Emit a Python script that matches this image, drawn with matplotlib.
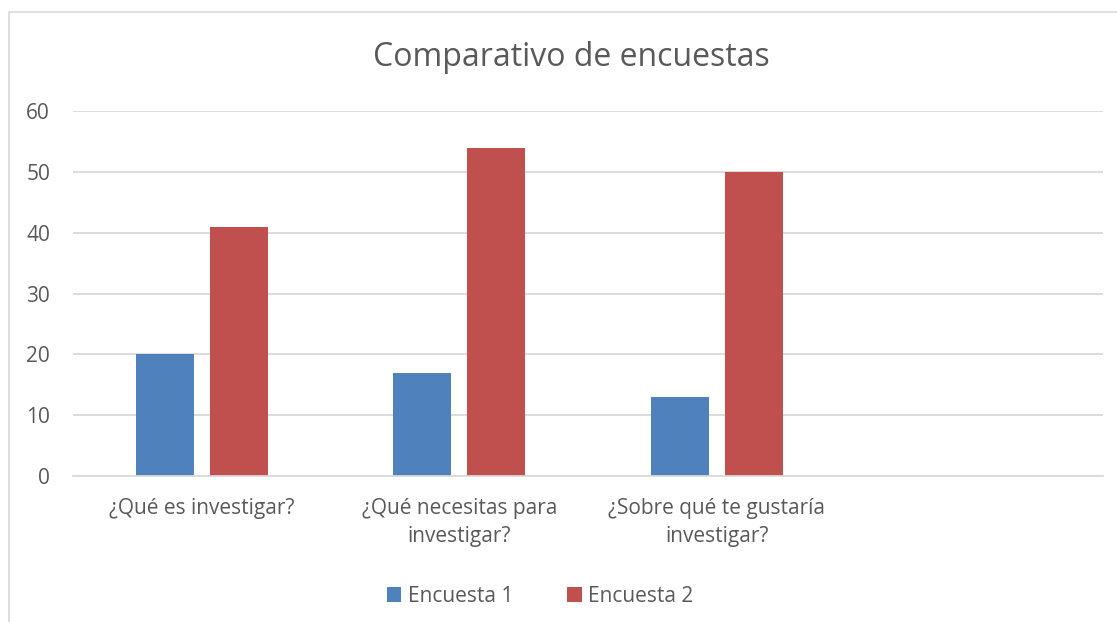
import matplotlib.pyplot as plt
import numpy as np
from matplotlib.patches import Rectangle

# --- data ---
categories = ['¿Qué es investigar?', '¿Qué necesitas para\ninvestigar?',
              '¿Sobre qué te gustaría\ninvestigar?', '']
encuesta_1 = [20, 17, 13, np.nan]
encuesta_2 = [41, 54, 50, np.nan]
series_names = ['Encuesta 1', 'Encuesta 2']
yticks = [0, 10, 20, 30, 40, 50, 60]

BLUE = '#4F81BD'
RED = '#C0504D'
TEXT = '#595959'
GRID = '#D9D9D9'

plt.rcParams['font.family'] = ['Open Sans', 'DejaVu Sans']

fig = plt.figure(figsize=(11.17, 6.22), dpi=100)
W, H = 1117, 622

# chart area border (extends past right/bottom edges)
fig.patches.append(Rectangle((9 / W, -0.1), 1.2, 1 - 12 / H + 0.1,
                             transform=fig.transFigure, fill=False,
                             edgecolor=GRID, linewidth=1.2))

ax = fig.add_axes([73 / W, 1 - 476 / H, (1103 - 73) / W, (476 - 111) / H])

x = np.arange(len(categories))
width = 0.225
offset = 0.144
ax.bar(x - offset, encuesta_1, width, color=BLUE, label=series_names[0])
ax.bar(x + offset, encuesta_2, width, color=RED, label=series_names[1])

ax.set_xlim(-0.5, len(categories) - 0.5)
ax.set_ylim(0, 60)
ax.set_yticks(yticks)
ax.yaxis.grid(True, color=GRID, linewidth=1.3)
ax.set_axisbelow(True)
for s in ['top', 'right', 'left']:
    ax.spines[s].set_visible(False)
ax.spines['bottom'].set_color(GRID)
ax.spines['bottom'].set_linewidth(1.3)

ax.set_xticks(x)
ax.set_xticklabels(categories, fontsize=15, color=TEXT, linespacing=1.45)
ax.tick_params(axis='x', length=0, pad=16)
ax.tick_params(axis='y', length=0, pad=16.5, labelsize=15, labelcolor=TEXT)

fig.text(571 / W, 1 - 57 / H, 'Comparativo de encuestas', ha='center',
         va='center', fontsize=23, color=TEXT)

leg = fig.legend(loc='center', bbox_to_anchor=(540 / W, 1 - 596 / H),
                 ncol=2, frameon=False, fontsize=15, handlelength=0.7,
                 handleheight=0.7, handletextpad=0.3, columnspacing=2.6,
                 labelcolor=TEXT)

fig.savefig('out.png', dpi=100)
